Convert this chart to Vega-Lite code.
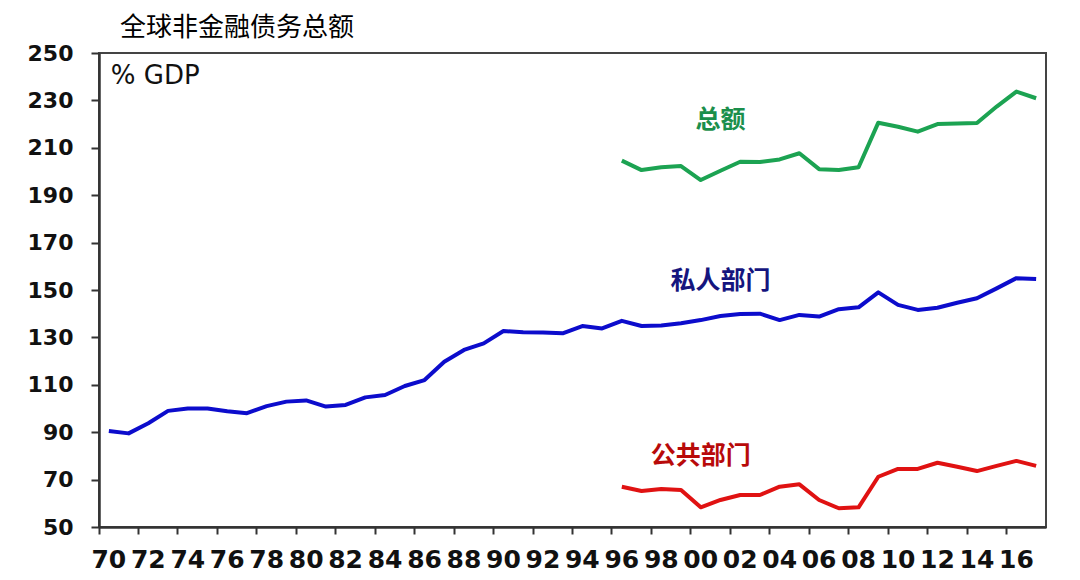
{
  "$schema": "https://vega.github.io/schema/vega-lite/v6.json",
  "autosize": {"type": "none"},
  "width": 947,
  "height": 474,
  "padding": {"left": 99, "top": 53, "right": 34, "bottom": 53},
  "background": "white",
  "title": {
    "text": "全球非金融债务总额",
    "anchor": "start",
    "frame": "group",
    "dx": 21,
    "offset": -25,
    "baseline": "bottom",
    "font": "Noto Sans CJK SC",
    "fontSize": 26,
    "fontWeight": "normal",
    "color": "#000000"
  },
  "config": {
    "view": {"stroke": "#444444", "strokeWidth": 2},
    "axis": {"grid": false}
  },
  "datasets": {
    "series": [
      {"year": 1970, "series": "private", "value": 90.5},
      {"year": 1971, "series": "private", "value": 89.5},
      {"year": 1972, "series": "private", "value": 93.8},
      {"year": 1973, "series": "private", "value": 99},
      {"year": 1974, "series": "private", "value": 100},
      {"year": 1975, "series": "private", "value": 100},
      {"year": 1976, "series": "private", "value": 98.8},
      {"year": 1977, "series": "private", "value": 98},
      {"year": 1978, "series": "private", "value": 101},
      {"year": 1979, "series": "private", "value": 102.9},
      {"year": 1980, "series": "private", "value": 103.4},
      {"year": 1981, "series": "private", "value": 100.8},
      {"year": 1982, "series": "private", "value": 101.5},
      {"year": 1983, "series": "private", "value": 104.7},
      {"year": 1984, "series": "private", "value": 105.7},
      {"year": 1985, "series": "private", "value": 109.5},
      {"year": 1986, "series": "private", "value": 112},
      {"year": 1987, "series": "private", "value": 119.7},
      {"year": 1988, "series": "private", "value": 124.7},
      {"year": 1989, "series": "private", "value": 127.5},
      {"year": 1990, "series": "private", "value": 132.7},
      {"year": 1991, "series": "private", "value": 132.2},
      {"year": 1992, "series": "private", "value": 132.1},
      {"year": 1993, "series": "private", "value": 131.7},
      {"year": 1994, "series": "private", "value": 134.8},
      {"year": 1995, "series": "private", "value": 133.8},
      {"year": 1996, "series": "private", "value": 137},
      {"year": 1997, "series": "private", "value": 134.8},
      {"year": 1998, "series": "private", "value": 135},
      {"year": 1999, "series": "private", "value": 136},
      {"year": 2000, "series": "private", "value": 137.3},
      {"year": 2001, "series": "private", "value": 139},
      {"year": 2002, "series": "private", "value": 139.9},
      {"year": 2003, "series": "private", "value": 140},
      {"year": 2004, "series": "private", "value": 137.3},
      {"year": 2005, "series": "private", "value": 139.5},
      {"year": 2006, "series": "private", "value": 138.8},
      {"year": 2007, "series": "private", "value": 141.9},
      {"year": 2008, "series": "private", "value": 142.7},
      {"year": 2009, "series": "private", "value": 149},
      {"year": 2010, "series": "private", "value": 143.7},
      {"year": 2011, "series": "private", "value": 141.6},
      {"year": 2012, "series": "private", "value": 142.5},
      {"year": 2013, "series": "private", "value": 144.6},
      {"year": 2014, "series": "private", "value": 146.5},
      {"year": 2015, "series": "private", "value": 150.7},
      {"year": 2016, "series": "private", "value": 155},
      {"year": 2017, "series": "private", "value": 154.6},
      {"year": 1996, "series": "total", "value": 204.6},
      {"year": 1997, "series": "total", "value": 200.6},
      {"year": 1998, "series": "total", "value": 201.8},
      {"year": 1999, "series": "total", "value": 202.3},
      {"year": 2000, "series": "total", "value": 196.4},
      {"year": 2001, "series": "total", "value": 200.3},
      {"year": 2002, "series": "total", "value": 204.1},
      {"year": 2003, "series": "total", "value": 204},
      {"year": 2004, "series": "total", "value": 205.1},
      {"year": 2005, "series": "total", "value": 207.7},
      {"year": 2006, "series": "total", "value": 201},
      {"year": 2007, "series": "total", "value": 200.6},
      {"year": 2008, "series": "total", "value": 201.8},
      {"year": 2009, "series": "total", "value": 220.6},
      {"year": 2010, "series": "total", "value": 218.9},
      {"year": 2011, "series": "total", "value": 216.8},
      {"year": 2012, "series": "total", "value": 220},
      {"year": 2013, "series": "total", "value": 220.3},
      {"year": 2014, "series": "total", "value": 220.5},
      {"year": 2015, "series": "total", "value": 227.4},
      {"year": 2016, "series": "total", "value": 233.7},
      {"year": 2017, "series": "total", "value": 230.9},
      {"year": 1996, "series": "public", "value": 67},
      {"year": 1997, "series": "public", "value": 65.2},
      {"year": 1998, "series": "public", "value": 66},
      {"year": 1999, "series": "public", "value": 65.6},
      {"year": 2000, "series": "public", "value": 58.3},
      {"year": 2001, "series": "public", "value": 61.4},
      {"year": 2002, "series": "public", "value": 63.5},
      {"year": 2003, "series": "public", "value": 63.5},
      {"year": 2004, "series": "public", "value": 67},
      {"year": 2005, "series": "public", "value": 68},
      {"year": 2006, "series": "public", "value": 61.4},
      {"year": 2007, "series": "public", "value": 57.9},
      {"year": 2008, "series": "public", "value": 58.3},
      {"year": 2009, "series": "public", "value": 71.2},
      {"year": 2010, "series": "public", "value": 74.5},
      {"year": 2011, "series": "public", "value": 74.5},
      {"year": 2012, "series": "public", "value": 77.1},
      {"year": 2013, "series": "public", "value": 75.4},
      {"year": 2014, "series": "public", "value": 73.6},
      {"year": 2015, "series": "public", "value": 75.8},
      {"year": 2016, "series": "public", "value": 77.9},
      {"year": 2017, "series": "public", "value": 75.8}
    ],
    "labels": [
      {"year": 2001, "value": 221.7, "label": "总额", "series": "total"},
      {"year": 2001, "value": 153.6, "label": "私人部门", "series": "private"},
      {"year": 2000, "value": 80, "label": "公共部门", "series": "public"},
      {"year": 1970, "value": 240.3, "label": "% GDP", "series": "unit"}
    ]
  },
  "encoding": {
    "x": {
      "field": "year",
      "type": "ordinal",
      "scale": {"type": "band", "paddingInner": 0, "paddingOuter": 0},
      "axis": {
        "title": null,
        "values": [1970, 1972, 1974, 1976, 1978, 1980, 1982, 1984, 1986, 1988, 1990, 1992, 1994, 1996, 1998, 2000, 2002, 2004, 2006, 2008, 2010, 2012, 2014, 2016],
        "labelExpr": "slice(datum.label, 2)",
        "bandPosition": 0,
        "labelAngle": 0,
        "labelFont": "DejaVu Sans",
        "labelFontWeight": "bold",
        "labelFontSize": 25,
        "labelColor": "#111111",
        "labelPadding": 13,
        "labelOverlap": false,
        "tickSize": 7,
        "tickWidth": 2,
        "tickColor": "#333333",
        "domainColor": "#333333",
        "domainWidth": 2.5
      }
    },
    "y": {
      "field": "value",
      "type": "quantitative",
      "scale": {"domain": [50, 250], "nice": false, "zero": false},
      "axis": {
        "title": null,
        "values": [50, 70, 90, 110, 130, 150, 170, 190, 210, 230, 250],
        "labelFont": "DejaVu Sans",
        "labelFontWeight": "bold",
        "labelFontSize": 22,
        "labelColor": "#111111",
        "labelPadding": 18,
        "tickSize": 8,
        "tickWidth": 2,
        "tickColor": "#333333",
        "domainColor": "#333333",
        "domainWidth": 2.5
      }
    }
  },
  "layer": [
    {
      "data": {"name": "series"},
      "mark": {"type": "line", "strokeWidth": 4, "strokeJoin": "round"},
      "encoding": {
        "color": {
          "field": "series",
          "type": "nominal",
          "scale": {"domain": ["private", "total", "public"], "range": ["#0c0ccc", "#1ca352", "#e01212"]},
          "legend": null
        }
      }
    },
    {
      "data": {"name": "labels"},
      "transform": [{"filter": "datum.series === 'total'"}],
      "mark": {"type": "text", "font": "Noto Sans CJK SC", "fontWeight": "bold", "fontSize": 25, "color": "#1b8f4c", "align": "center", "baseline": "middle"},
      "encoding": {"text": {"field": "label"}}
    },
    {
      "data": {"name": "labels"},
      "transform": [{"filter": "datum.series === 'private'"}],
      "mark": {"type": "text", "font": "Noto Sans CJK SC", "fontWeight": "bold", "fontSize": 25, "color": "#15157e", "align": "center", "baseline": "middle"},
      "encoding": {"text": {"field": "label"}}
    },
    {
      "data": {"name": "labels"},
      "transform": [{"filter": "datum.series === 'public'"}],
      "mark": {"type": "text", "font": "Noto Sans CJK SC", "fontWeight": "bold", "fontSize": 25, "color": "#b80a0a", "align": "center", "baseline": "middle"},
      "encoding": {"text": {"field": "label"}}
    },
    {
      "data": {"name": "labels"},
      "transform": [{"filter": "datum.series === 'unit'"}],
      "mark": {"type": "text", "font": "DejaVu Sans", "fontWeight": "normal", "fontSize": 26, "color": "#111111", "align": "left", "baseline": "middle", "dx": 2},
      "encoding": {"text": {"field": "label"}}
    }
  ]
}
